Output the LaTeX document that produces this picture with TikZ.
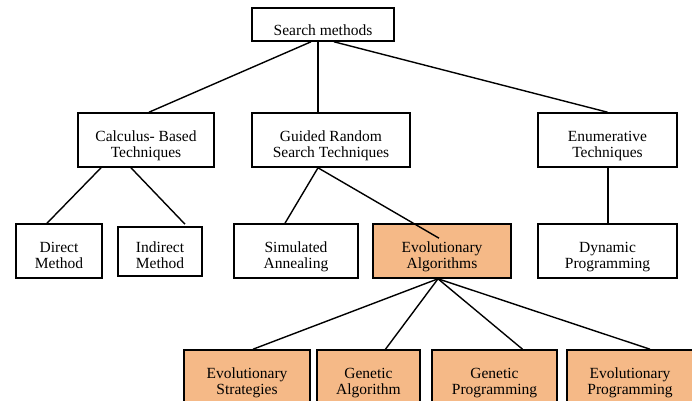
\documentclass[tikz,border=0pt]{standalone}
\usepackage{fontspec}
\setmainfont{Liberation Serif}
\usepackage{tikz}
\usetikzlibrary{positioning,calc}

\definecolor{evo}{RGB}{245,185,135}

\begin{document}
\begin{tikzpicture}[x=1pt,y=-1pt,
		box/.style={draw,line width=1.6pt,fill=white,align=center,inner sep=0pt,
			font=\fontsize{15.5}{16}\selectfont,
			text height=38pt,text depth=4pt},
		evobox/.style={box,fill=evo},
		link/.style={line width=1.4pt}]
		\useasboundingbox (0,0) rectangle (692,400);
		% level 0
		\node[box, text height=22pt, text depth=1pt, minimum width=142, minimum height=33] (SM) at (323, 24.5) {Search methods};
		% level 1
		\node[box, minimum width=136, minimum height=54] (CB) at (146, 140) {Calculus- Based\\Techniques};
		\node[box, minimum width=158, minimum height=54] (GR) at (331, 140) {Guided Random\\Search Techniques};
		\node[box, minimum width=139, minimum height=54] (EN) at (607.5, 140) {Enumerative\\Techniques};
		% level 2
		\node[box, minimum width=86, minimum height=54] (DM) at (59, 251) {Direct\\Method};
		\node[box, minimum width=84, minimum height=49] (IM) at (160, 251.5) {Indirect\\Method};
		\node[box, minimum width=124, minimum height=54] (SA) at (296, 251) {Simulated\\Annealing};
		\node[evobox, minimum width=138, minimum height=54] (EA) at (442, 251) {Evolutionary\\Algorithms};
		\node[box, minimum width=139, minimum height=54] (DP) at (607.5, 251) {Dynamic\\Programming};
		% level 3
		\node[evobox, minimum width=126, minimum height=54] (ES) at (247, 377) {Evolutionary\\Strategies};
		\node[evobox, minimum width=103, minimum height=54] (GA) at (368.5, 377) {Genetic\\Algorithm};
		\node[evobox, minimum width=125, minimum height=54] (GP) at (494.5, 377) {Genetic\\Programming};
		\node[evobox, minimum width=126, minimum height=54] (EP) at (630, 377) {Evolutionary\\Programming};
		% links
		\draw[link] ([xshift=-12pt]SM.south) -- ([xshift=3pt]CB.north);
		\draw[link] ([xshift=-5pt]SM.south) -- ([xshift=-13pt]GR.north);
		\draw[link] ([xshift=11pt]SM.south) -- (EN.north);
		\draw[link] ([xshift=-45pt]CB.south) -- ([xshift=-12pt]DM.north);
		\draw[link] ([xshift=-15pt]CB.south) -- ([xshift=25pt,yshift=2pt]IM.north);
		\draw[link] ([xshift=-13pt]GR.south) -- ([xshift=-11pt]SA.north);
		\draw[link] ([xshift=-13pt]GR.south) -- ([xshift=-3pt,yshift=-15pt]EA.north);
		\draw[link] ([xshift=0.5pt]EN.south) -- ([xshift=0.5pt]DP.north);
		\draw[link] ([xshift=-4pt]EA.south) -- ([xshift=6pt]ES.north);
		\draw[link] ([xshift=-4pt]EA.south) -- ([xshift=17pt]GA.north);
		\draw[link] ([xshift=-4pt]EA.south) -- ([xshift=28pt]GP.north);
		\draw[link] ([xshift=-4pt]EA.south) -- ([xshift=20pt]EP.north);
	\end{tikzpicture}
\end{document}
